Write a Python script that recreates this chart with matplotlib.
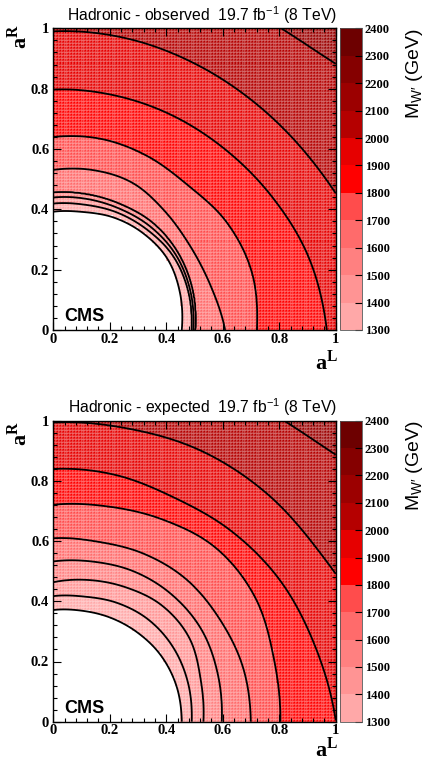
import numpy as np
import matplotlib
matplotlib.use("Agg")
import matplotlib.pyplot as plt
from matplotlib.colors import ListedColormap, BoundaryNorm
from matplotlib.ticker import MultipleLocator, FixedLocator, FixedFormatter

# ---------------- data ----------------
mass_levels = [1300, 1400, 1500, 1600, 1700, 1800, 1900, 2000, 2100]
ray_angles_deg = [0, 15, 30, 45, 60, 75, 90]   # angle of ray from the aL axis

# radius sqrt(aL^2+aR^2) where each mass level is crossed along each ray
observed_radii = [
    [0.455, 0.465, 0.468, 0.452, 0.430, 0.405, 0.392],   # 1300
    [0.490, 0.495, 0.490, 0.470, 0.450, 0.430, 0.419],   # 1400
    [0.496, 0.502, 0.500, 0.485, 0.465, 0.450, 0.439],   # 1500
    [0.502, 0.510, 0.510, 0.500, 0.480, 0.465, 0.455],   # 1600
    [0.608, 0.575, 0.558, 0.557, 0.562, 0.548, 0.530],   # 1700
    [0.720, 0.728, 0.710, 0.676, 0.665, 0.655, 0.639],   # 1800
    [0.968, 0.935, 0.890, 0.852, 0.825, 0.806, 0.796],   # 1900
    [1.190, 1.132, 1.078, 1.040, 1.015, 1.000, 0.989],   # 2000
    [1.550, 1.500, 1.420, 1.310, 1.260, 1.235, 1.225],   # 2100
]
expected_radii = [
    [0.455, 0.452, 0.440, 0.420, 0.400, 0.382, 0.371],   # 1300
    [0.490, 0.494, 0.491, 0.478, 0.455, 0.430, 0.417],   # 1400
    [0.531, 0.540, 0.556, 0.545, 0.515, 0.487, 0.463],   # 1500
    [0.596, 0.603, 0.607, 0.595, 0.575, 0.550, 0.532],   # 1600
    [0.699, 0.695, 0.680, 0.667, 0.643, 0.618, 0.609],   # 1700
    [0.803, 0.808, 0.825, 0.815, 0.775, 0.740, 0.720],   # 1800
    [1.000, 0.960, 0.930, 0.893, 0.858, 0.848, 0.839],   # 1900
    [1.220, 1.160, 1.100, 1.070, 1.040, 1.008, 0.993],   # 2000
    [1.550, 1.500, 1.420, 1.315, 1.265, 1.240, 1.230],   # 2100
]

palette_bounds = [1300, 1400, 1500, 1600, 1700, 1800, 1900, 2000, 2100, 2200, 2300, 2400]
palette_colors = ["#ffa8a8", "#ff9494", "#ff8080", "#ff6b6b", "#ff4c4c",
                  "#ff0000", "#e60000", "#b50000", "#9c0000", "#850000", "#6d0000"]

axis_ticks = [0, 0.2, 0.4, 0.6, 0.8, 1.0]
axis_ticklabels = ["0", "0.2", "0.4", "0.6", "0.8", "1"]
panel_titles = ["Hadronic - observed  19.7 fb$^{-1}$ (8 TeV)",
                "Hadronic - expected  19.7 fb$^{-1}$ (8 TeV)"]
xlabel_text = r"$\mathbf{a}^{\mathbf{L}}$"
ylabel_text = r"$\mathbf{a}^{\mathbf{R}}$"
zlabel_text = "M$_{\\mathrm{W\u2032}}$ (GeV)"
experiment_label = "CMS"

# ---------------- fonts ----------------
plt.rcParams["font.family"] = ["Liberation Serif", "DejaVu Serif"]
plt.rcParams["font.weight"] = "bold"
plt.rcParams["mathtext.fontset"] = "custom"
plt.rcParams["mathtext.rm"] = "Liberation Sans:weight=normal"
plt.rcParams["mathtext.it"] = "Liberation Sans:italic:weight=normal"
plt.rcParams["mathtext.bf"] = "Liberation Serif:bold"
plt.rcParams["mathtext.fallback"] = "stixsans"


def mass_field(aL, aR, radii):
    radii = np.asarray(radii, float)
    ang = np.asarray(ray_angles_deg, float)
    lev = np.asarray(mass_levels, float)
    step = ang[1] - ang[0]
    theta = np.degrees(np.arctan2(aR, aL))
    r = np.hypot(aL, aR)
    seg = np.clip((theta // step).astype(int), 0, len(ang) - 2)
    t = (theta - ang[seg]) / step
    padded = np.concatenate([2 * radii[:, :1] - radii[:, 1:2], radii,
                             2 * radii[:, -1:] - radii[:, -2:-1]], axis=1)
    p0 = padded[:, seg]; p1 = padded[:, seg + 1]
    p2 = padded[:, seg + 2]; p3 = padded[:, seg + 3]
    R = 0.5 * (2 * p1 + (-p0 + p2) * t + (2 * p0 - 5 * p1 + 4 * p2 - p3) * t ** 2
               + (-p0 + 3 * p1 - 3 * p2 + p3) * t ** 3)
    R = np.maximum.accumulate(R, axis=0)
    R = R + 1e-4 * np.arange(len(lev))[:, None, None]
    idx = np.clip((R < r[None]).sum(axis=0), 1, len(lev) - 1)
    lo = idx - 1
    r_lo = np.take_along_axis(R, lo[None], 0)[0]
    r_hi = np.take_along_axis(R, idx[None], 0)[0]
    return lev[lo] + (r - r_lo) / (r_hi - r_lo) * (lev[idx] - lev[lo])


cmap = ListedColormap(palette_colors)
cmap.set_bad((1, 1, 1, 0))
norm = BoundaryNorm(palette_bounds, cmap.N)

W, H = 435, 763
fig = plt.figure(figsize=(W / 100, H / 100), dpi=100)

panels = [
    dict(radii=observed_radii, title=panel_titles[0], top=28.3, bottom=330.0,
         title_base=20.5, xlab_bottom=375.0, ylab_top=24.0),
    dict(radii=expected_radii, title=panel_titles[1], top=420.7, bottom=721.7,
         title_base=413.0, xlab_bottom=762.0, ylab_top=421.0),
]

x_left, x_right = 53.3, 335.7
cb_left, cb_right = 340.0, 362.0

edges = np.linspace(0, 1, 101)
centers = 0.5 * (edges[:-1] + edges[1:])
fine = np.linspace(0, 1, 401)

for p in panels:
    ax = fig.add_axes([x_left / W, 1 - p["bottom"] / H, (x_right - x_left) / W,
                       (p["bottom"] - p["top"]) / H])
    CX, CY = np.meshgrid(centers, centers)
    M = mass_field(CX, CY, p["radii"])
    Mm = np.ma.masked_less(M, palette_bounds[0])
    ax.pcolormesh(edges, edges, Mm, cmap=cmap, norm=norm,
                  edgecolors=(1, 1, 1, 0.16), linewidth=0.3)
    FX, FY = np.meshgrid(fine, fine)
    MF = mass_field(FX, FY, p["radii"])
    ax.contour(fine, fine, MF, levels=mass_levels, colors="black",
               linewidths=1.3)
    ax.set_xlim(0, 1)
    ax.set_ylim(0, 1)
    for axis in (ax.xaxis, ax.yaxis):
        axis.set_major_locator(FixedLocator(axis_ticks))
        axis.set_major_formatter(FixedFormatter(axis_ticklabels))
        axis.set_minor_locator(MultipleLocator(0.04))
    ax.tick_params(which="both", direction="in", top=True, right=True,
                   width=0.8, labelsize=10.5, pad=3)
    ax.tick_params(axis="x", which="both", pad=2)
    ax.tick_params(which="major", length=6)
    ax.tick_params(which="minor", length=3)
    for s in ax.spines.values():
        s.set_linewidth(1.0)
    ax.text(0.04, 0.03, experiment_label, transform=ax.transAxes,
            family="Liberation Sans", weight="bold", fontsize=13,
            ha="left", va="baseline")

    # titles and axis labels
    fig.text(337 / W, 1 - p["title_base"] / H, p["title"], family="Liberation Sans",
             weight="normal", fontsize=11.3, ha="right", va="baseline")
    fig.text(338 / W, 1 - p["xlab_bottom"] / H, xlabel_text, fontsize=16,
             ha="right", va="bottom")
    fig.text(19 / W, 1 - p["ylab_top"] / H, ylabel_text, fontsize=16,
             rotation=90, ha="center", va="top")

    # colour bar
    cax = fig.add_axes([cb_left / W, 1 - p["bottom"] / H, (cb_right - cb_left) / W,
                        (p["bottom"] - p["top"]) / H])
    sm = plt.cm.ScalarMappable(cmap=cmap, norm=norm)
    cb = fig.colorbar(sm, cax=cax, ticks=palette_bounds)
    cb.outline.set_linewidth(0.6)
    cb.outline.set_edgecolor("#555555")
    cax.yaxis.set_ticks_position("right")
    cax.tick_params(direction="in", length=5, width=0.8, labelsize=9, pad=2)
    cax.set_yticklabels([str(b) for b in palette_bounds])
    fig.text(415 / W, 1 - (p["top"]) / H, zlabel_text, family="Liberation Sans",
             weight="normal", fontsize=14, rotation=90, ha="center", va="top")

fig.savefig("out.png", dpi=100)
